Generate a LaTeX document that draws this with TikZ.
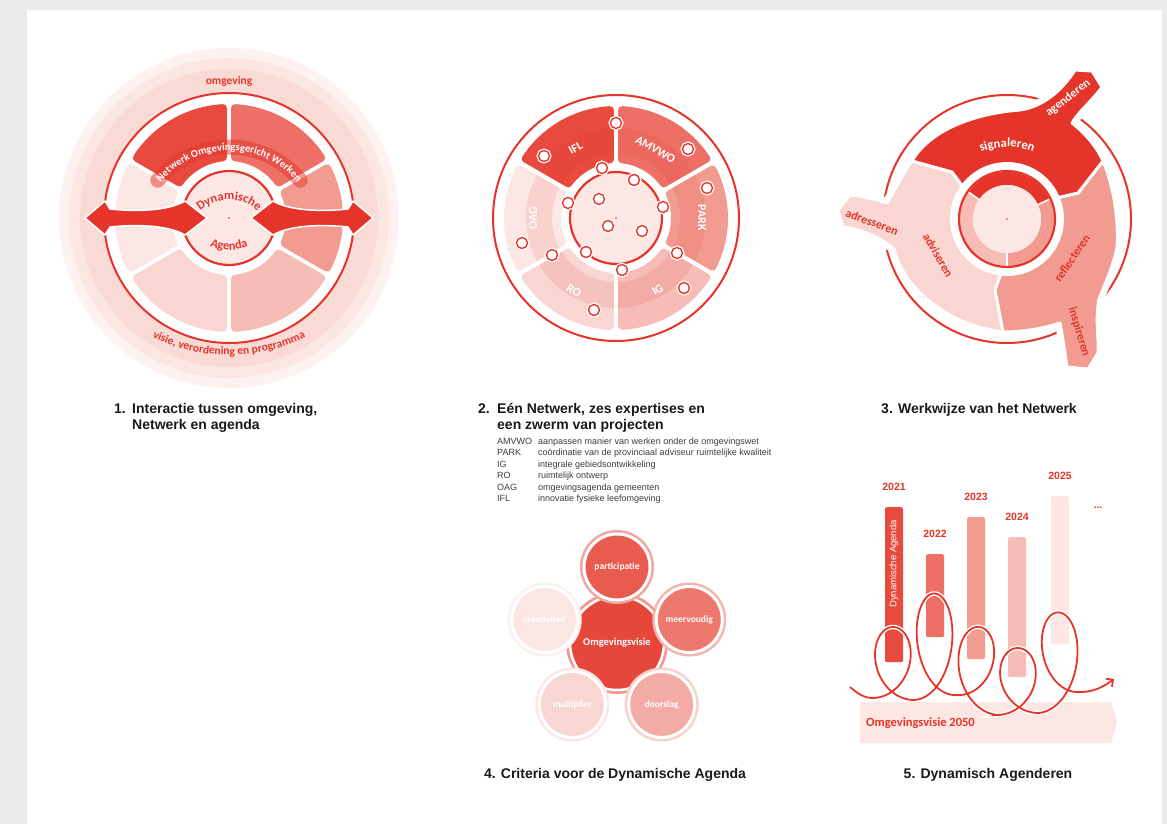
\documentclass[tikz,border=0pt]{standalone}
\usepackage{fontspec}
\setmainfont{Liberation Sans}
\newfontfamily\lblfont{Carlito}
\usetikzlibrary{arrows.meta,positioning,calc,decorations.text}
\definecolor{redA}{HTML}{E5352B}
\definecolor{segA}{HTML}{E84A3E}
\definecolor{segB}{HTML}{ED6F65}
\definecolor{segC}{HTML}{F29B91}
\definecolor{segD}{HTML}{F6BCB6}
\definecolor{segE}{HTML}{F9D6D2}
\definecolor{segF}{HTML}{FCE7E4}
\definecolor{ringA}{HTML}{FDF2F0}
\definecolor{ringB}{HTML}{FBE6E2}
\definecolor{ringC}{HTML}{F9DAD5}
\definecolor{critA}{HTML}{E95A4F}
\definecolor{critB}{HTML}{EC786E}
\definecolor{critC}{HTML}{F2ACA5}
\definecolor{critD}{HTML}{F8D6D2}
\definecolor{critE}{HTML}{FBE6E3}
\definecolor{critM}{HTML}{E5473B}
\definecolor{pagegrey}{HTML}{EBEBEB}
\definecolor{ink}{HTML}{1A1A1A}
\newcommand{\arcfont}{\lblfont\bfseries\fontsize{10.5pt}{12pt}\selectfont}
\newcommand{\arcfontM}{\lblfont\bfseries\fontsize{11.5pt}{13pt}\selectfont}
\newcommand{\arcfontL}{\lblfont\bfseries\fontsize{12.5pt}{14pt}\selectfont}
\tikzset{
  ttl/.style={anchor=base west, align=left, font=\fontsize{14}{16}\selectfont\bfseries, text=ink, inner sep=0pt},
  ttlc/.style={anchor=base, font=\fontsize{14}{16}\selectfont\bfseries, text=ink, inner sep=0pt},
  legendtxt/.style={anchor=base west, align=left, font=\fontsize{9}{11.4}\selectfont, text=ink!85, inner sep=0pt},
  lbl/.style={font=\lblfont\bfseries\fontsize{12}{14}\selectfont, inner sep=0pt, text=redA},
  seglbl/.style={lbl, text=white},
  proj/.style={circle, draw=redA, line width=1.4pt, fill=white, minimum size=11pt, inner sep=0pt,
    preaction={draw=white, line width=4pt}},
  band/.style={line width=15pt, line cap=round, draw=redA, opacity=0.5},
  fatarrow/.style={fill=redA, draw=white, line width=1.5pt, line join=round},
  petal/.style={draw=white, line width=3pt, line join=round},
  petalhalo/.style={draw=white, line width=10pt, line join=round},
  crit/.style={circle, inner sep=0pt, minimum size=66pt, fill=#1, draw=white, line width=3pt, text=white,
    font=\lblfont\bfseries\fontsize{9.5}{11}\selectfont, preaction={draw=#1!55!white, line width=8pt}},
  critmid/.style={crit=#1, minimum size=94pt, line width=2.5pt, font=\lblfont\bfseries\fontsize{10.5}{12}\selectfont},
  bar/.style={rectangle, rounded corners=2pt, minimum width=18pt, inner sep=0pt, anchor=north},
  year/.style={font=\fontsize{10.5}{12}\selectfont\bfseries, text=redA, inner sep=0pt},
  spiral/.style={draw=redA, line width=1.8pt, -{Straight Barb[length=5pt,width=10pt]},
    preaction={draw=white, line width=4.5pt}},
}
% ring segment: colour, start angle, end angle, inner radius, outer radius
\newcommand{\ringseg}[5]{%
  \pgfmathsetmacro{\segri}{#4+4}%
  \pgfmathsetmacro{\segro}{#5-4}%
  \pgfmathsetmacro{\segbi}{asin(6/\segri)}%
  \pgfmathsetmacro{\segbo}{asin(6/\segro)}%
  \filldraw[fill=#1, draw=#1, line width=8pt, line join=round]
    ({#2+\segbi}:\segri) -- ({#2+\segbo}:\segro)
    arc[start angle={#2+\segbo}, end angle={#3-\segbo}, radius=\segro]
    -- ({#3-\segbi}:\segri)
    arc[start angle={#3-\segbi}, end angle={#2+\segbi}, radius=\segri] -- cycle;}
% petals of the Werkwijze wheel
\newcommand{\sigpath}{(0,0) -- (-44,32) -- (-55,47) -- (-95,58) .. controls (-80,85) and (-40,105) .. (13,109)
  .. controls (35,112) and (55,128) .. (68,149) -- (85,148) -- (95,132) .. controls (86,119) and (72,108) .. (65,96)
  .. controls (78,86) and (90,72) .. (96,58) -- (71,26) -- (45,20) -- cycle}
\newcommand{\advpath}{(0,0) -- (-44,32) -- (-55,47) -- (-95,58) .. controls (-103,48) and (-110,32) .. (-120,16)
  .. controls (-132,20) and (-146,23) .. (-157,24) -- (-169,9) -- (-164,-8) .. controls (-148,-10) and (-130,-16) .. (-113,-30)
  .. controls (-105,-65) and (-65,-105) .. (-4,-113) -- (-12,-71) -- (0,-38) -- cycle}
\newcommand{\refpath}{(0,0) -- (45,20) -- (71,26) -- (96,58) .. controls (106,35) and (112,0) .. (110,-28)
  .. controls (107,-45) and (100,-60) .. (92,-80) .. controls (88,-100) and (92,-120) .. (91,-134) -- (81,-150) -- (60,-148)
  .. controls (58,-135) and (56,-120) .. (53,-104) .. controls (35,-110) and (15,-113) .. (-4,-113) -- (-12,-71) -- (0,-38) -- cycle}
% one loop of the agenda spiral: start x, valley before, valley after, half height
\newcommand{\loopseg}[4]{-- plot[domain=0:6.2832, samples=80, variable=\t]
  ({#1+6.64*\t+27.5*sin(\t r)},{-#2-(#3-#2)*\t/6.2832+#4*(1-cos(\t r))})}

\begin{document}
\begin{tikzpicture}[x=1pt, y=1pt]
\useasboundingbox (0,0) rectangle (1167,-824);
\fill[pagegrey] (0,0) rectangle (1167,-824);
\fill[white] (27,-10) rectangle (1162,-824);

% 1. interactie
\begin{scope}[shift={(229,-218)}]
  \fill[ringA] (0,0) circle[radius=170];
  \fill[ringB] (0,0) circle[radius=160];
  \fill[ringC] (0,0) circle[radius=149];
  \filldraw[fill=white, draw=redA, line width=2pt] (0,0) circle[radius=125];
  \ringseg{segA}{90}{150}{57}{114}
  \ringseg{segB}{30}{90}{57}{114}
  \ringseg{segC}{-30}{30}{57}{114}
  \ringseg{segD}{-90}{-30}{57}{114}
  \ringseg{segE}{-150}{-90}{57}{114}
  \ringseg{segF}{150}{210}{57}{114}
  \draw[band] ($(0,-22)+(140:93)$) arc[start angle=140, end angle=40, radius=93];
  \path[decorate, decoration={text along path, text={|\arcfont|Netwerk Omgevingsgericht Werken},
    text align=center, text color=white}] ($(0,-22)+(140:89.5)$) arc[start angle=140, end angle=40, radius=89.5];
  \fill[white] (0,0) circle[radius=56];
  \filldraw[fill=segF, draw=redA, line width=2.2pt] (0,0) circle[radius=47];
  \path[decorate, decoration={text along path, text={|\arcfontL|Dynamische},
    text align=center, text color=redA}] ($(0,-25)+(130:43)$) arc[start angle=130, end angle=50, radius=43];
  \path[decorate, decoration={text along path, text={|\arcfontL|Agenda},
    text align=center, text color=redA}] ($(0,15)+(235:47)$) arc[start angle=235, end angle=305, radius=47];
  \filldraw[fatarrow] (-144,0) -- (-124,17) -- (-119,9) .. controls (-95,6.5) and (-62,6.5) .. (-44,17) -- (-22,0)
    -- (-44,-17) .. controls (-62,-6.5) and (-95,-6.5) .. (-119,-9) -- (-124,-17) -- cycle;
  \begin{scope}[xscale=-1]
    \filldraw[fatarrow] (-144,0) -- (-124,17) -- (-119,9) .. controls (-95,6.5) and (-62,6.5) .. (-44,17) -- (-22,0)
      -- (-44,-17) .. controls (-62,-6.5) and (-95,-6.5) .. (-119,-9) -- (-124,-17) -- cycle;
  \end{scope}
  \fill[redA] (0,0) circle[radius=0.8];
  \node[lbl, font=\arcfontM] (omgeving) at (0,137) {omgeving};
  \path[decorate, decoration={text along path, text={|\arcfontM|visie, verordening en programma},
    text align=center, text color=redA}] ($(0,40)+(242:177)$) arc[start angle=242, end angle=298, radius=177];
\end{scope}

% 2. netwerk en expertises
\begin{scope}[shift={(616,-218)}]
  \filldraw[fill=white, draw=redA, line width=2pt] (0,0) circle[radius=123];
  \ringseg{segA}{90}{150}{55}{112}
  \ringseg{segB}{30}{90}{55}{112}
  \ringseg{segC}{-30}{30}{55}{112}
  \ringseg{segD}{-90}{-30}{55}{112}
  \ringseg{segE}{-150}{-90}{55}{112}
  \ringseg{segF}{150}{210}{55}{112}
  \fill[redA, opacity=0.12, even odd rule] (0,0) circle[radius=90] circle[radius=64];
  \foreach \a in {30,90,150,210,270,330}
    \draw[white, line width=4pt] (\a:52) -- (\a:116);
  \fill[white] (0,0) circle[radius=54];
  \filldraw[fill=segF, draw=redA, line width=2.2pt] (0,0) circle[radius=46];
  \node[seglbl, rotate=30] (ifl) at (120:81) {IFL};
  \node[seglbl, rotate=-30] (amvwo) at (60:79) {AMVWO};
  \node[seglbl, rotate=-90] (park) at (0:86) {PARK};
  \node[seglbl, rotate=30] (ig) at (-60:83) {IG};
  \node[seglbl, rotate=-30] (ro) at (-120:84) {RO};
  \node[seglbl, rotate=90] (oag) at (180:83) {OAG};
  \fill[redA] (0,0) circle[radius=0.8];
  \foreach \px/\py [count=\k] in {0/95, 72/69, -72/62, -14/50, 18/38, 91/30, -48/15, -17/19, 47/11,
      -8/-8, 26/-13, -94/-25, -64/-37, -30/-34, 61/-35, 6/-52, 68/-70, -22/-92}
    \node[proj] (p\k) at (\px,\py) {};
\end{scope}

% 3. werkwijze
\begin{scope}[shift={(1007,-219)}]
  \draw[redA, line width=2pt] (0,0) circle[radius=124];
  \draw[petalhalo] \sigpath;
  \draw[petalhalo] \advpath;
  \draw[petalhalo] \refpath;
  \filldraw[fill=segE, petal] \advpath;
  \filldraw[fill=segC, petal] \refpath;
  \filldraw[fill=redA, petal] \sigpath;
  \fill[white] (0,0) circle[radius=57];
  \fill[redA] (25:47) arc[start angle=25, end angle=145, radius=47] -- (145:34) arc[start angle=145, end angle=25, radius=34] -- cycle;
  \fill[segD] (145:47) arc[start angle=145, end angle=270, radius=47] -- (270:34) arc[start angle=270, end angle=145, radius=34] -- cycle;
  \fill[segC] (-90:47) arc[start angle=-90, end angle=25, radius=47] -- (25:34) arc[start angle=25, end angle=-90, radius=34] -- cycle;
  \foreach \a in {25,145,270}
    \draw[white, line width=1.5pt] (\a:33) -- (\a:47);
  \draw[redA, line width=2.2pt] (0,0) circle[radius=48];
  \fill[segF] (0,0) circle[radius=34];
  \fill[redA] (0,0) circle[radius=0.8];
  \path[decorate, decoration={text along path, text={|\arcfontL|signaleren},
    text align=center, text color=white}] (120:72) arc[start angle=120, end angle=60, radius=72];
  \node[seglbl, rotate=38] (agenderen) at (61,121) {agenderen};
  \node[lbl, rotate=-20] (adresseren) at (-135,-3) {adresseren};
  \node[lbl, rotate=-60] (adviseren) at (-69,-36) {adviseren};
  \node[lbl, rotate=56] (reflecteren) at (65,-39) {reflecteren};
  \node[lbl, rotate=-73] (inspireren) at (72,-113) {inspireren};
\end{scope}

% 4. criteria
\node[critmid=critM] (ovisie) at (617,-643) {Omgevingsvisie};
\node[crit=critA] (partic) at ($(ovisie)+(90:76)$) {participatie};
\node[crit=critB] (meerv) at ($(ovisie)+(18:76)$) {meervoudig};
\node[crit=critC] (doorsl) at ($(ovisie)+(-54:76)$) {doorslag};
\node[crit=critD] (multi) at ($(ovisie)+(-126:76)$) {multiplier};
\node[crit=critE] (creat) at ($(ovisie)+(162:76)$) {creativiteit};

% 5. dynamisch agenderen
\node[bar, fill=segA, minimum height=155pt] (b2021) at (894,-507) {};
\node[bar, fill=segB, minimum height=83pt] (b2022) at (935,-554) {};
\node[bar, fill=segC, minimum height=142pt] (b2023) at (976,-517) {};
\node[bar, fill=segD, minimum height=140pt] (b2024) at (1017,-537) {};
\node[bar, fill=segF, minimum height=148pt] (b2025) at (1060,-496) {};
\node[year, above=16pt of b2021] (y2021) {2021};
\node[year, above=16pt of b2022] (y2022) {2022};
\node[year, above=16pt of b2023] (y2023) {2023};
\node[year, above=16pt of b2024] (y2024) {2024};
\node[year, above=16pt of b2025] (y2025) {2025};
\node[year] (more) at (1098,-508) {...};
\node[rotate=90, font=\fontsize{9.5}{11}\selectfont, text=white, inner sep=0pt] (dagenda) at (894,-564) {Dynamische Agenda};
\fill[segF] (860,-702) -- (1111,-702) -- (1117,-722) -- (1111,-743) -- (860,-743) -- cycle;
\node[lbl, anchor=west, font=\lblfont\bfseries\fontsize{12.5}{14}\selectfont] (ov2050) at (866,-723) {Omgevingsvisie 2050};
\draw[spiral] (850,-687) .. controls (858,-694) and (865,-698) .. (872,-698)
  \loopseg{872}{698}{700}{36} \loopseg{913.7}{700}{695}{52} \loopseg{955.4}{695}{715}{39}
  \loopseg{997.1}{715}{713}{33} \loopseg{1038.8}{713}{692}{45}
  .. controls (1092,-692) and (1102,-688) .. (1114,-679);

% titles (base of a two-line node is its last line)
\node[ttl] (title1) at (114,-429) {\makebox[18pt][l]{1.}Interactie tussen omgeving,\\\hspace*{18pt}Netwerk en agenda};
\node[ttl] (title2) at (478,-429) {\makebox[19pt][l]{2.}Eén Netwerk, zes expertises en\\\hspace*{19pt}een zwerm van projecten};
\node[legendtxt] (legend) at (497,-501.5) {\makebox[41pt][l]{AMVWO}aanpassen manier van werken onder de omgevingswet\\
  \makebox[41pt][l]{PARK}coördinatie van de provinciaal adviseur ruimtelijke kwaliteit\\
  \makebox[41pt][l]{IG}integrale gebiedsontwikkeling\\
  \makebox[41pt][l]{RO}ruimtelijk ontwerp\\
  \makebox[41pt][l]{OAG}omgevingsagenda gemeenten\\
  \makebox[41pt][l]{IFL}innovatie fysieke leefomgeving};
\node[ttlc] (title3) at (979,-413) {3. Werkwijze van het Netwerk};
\node[ttlc] (title4) at (615,-778) {4. Criteria voor de Dynamische Agenda};
\node[ttlc] (title5) at (988,-778) {5. Dynamisch Agenderen};
\end{tikzpicture}
\end{document}
